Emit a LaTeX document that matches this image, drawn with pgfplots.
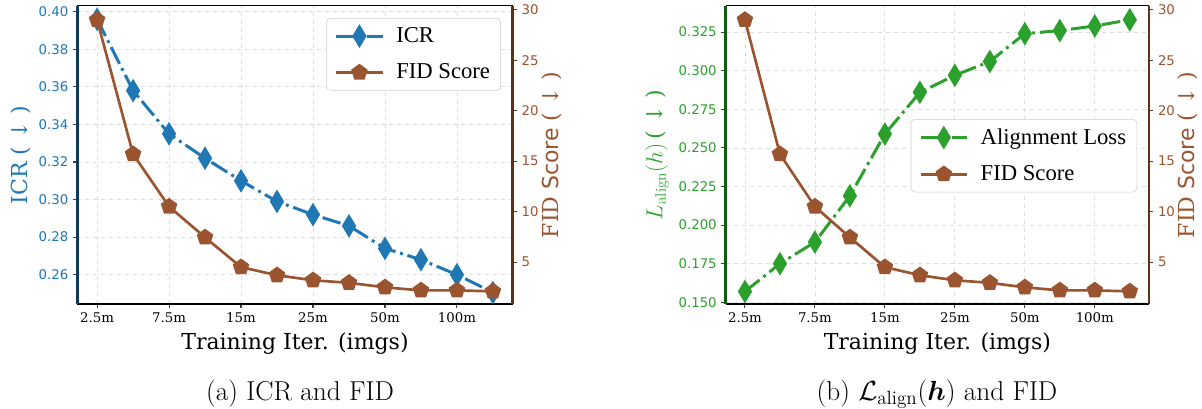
\documentclass[border=0pt]{standalone}
\usepackage{amsmath}
\usepackage{fontspec}
\usepackage{pgfplots}
\usepackage{pgfplotstable}
\pgfplotsset{compat=1.18}
\newfontfamily\dsans{DejaVu Sans}
\newfontfamily\dserif{DejaVu Serif}
\newfontfamily\tnr{Liberation Serif}
\definecolor{tabblue}{HTML}{1F77B4}
\definecolor{tabgreen}{HTML}{2CA02C}
\definecolor{fidbrown}{HTML}{9A5430}
\definecolor{spineblue}{HTML}{0E3A5C}
\definecolor{spinegreen}{HTML}{0B5E0B}
\definecolor{spinebrown}{HTML}{5A3418}

\pgfplotstableread{
x icr align fid
0 0.396 0.157 29.0
1 0.358 0.175 15.7
2 0.335 0.189 10.5
3 0.322 0.219 7.45
4 0.310 0.259 4.5
5 0.299 0.286 3.7
6 0.292 0.297 3.2
7 0.286 0.306 2.95
8 0.274 0.324 2.5
9 0.268 0.326 2.2
10 0.260 0.329 2.2
11 0.2505 0.333 2.1
}\data

\pgfplotsset{
  base/.style={
    scale only axis, height=223.7pt, xmin=-0.55, xmax=11.55,
    anchor=south west, tick align=outside, major tick length=3.2pt,
    major tick style={black!75, line width=0.8pt},
    xtick={0,2,4,6,8,10},
    xticklabels={2.5m,7.5m,15m,25m,50m,100m},
    xticklabel style={font=\dserif\fontsize{10}{12}\selectfont},
    legend cell align=left,
    legend image code/.code={\draw[mark repeat=2,mark phase=2,##1] plot coordinates {(0pt,0pt) (17.5pt,0pt) (35pt,0pt)};},
  },
  leftax/.style={
    base, axis x line*=box, axis y line*=left, xtick pos=left, ytick pos=left,
    x axis line style={black, line width=1.1pt},
    xmajorgrids, ymajorgrids,
    major grid style={dashed, black!13, line width=0.6pt},
    xlabel={Training Iter. (imgs)},
    xlabel style={font=\dserif\fontsize{16.5}{18}\selectfont, at={(axis description cs:0.5,-0.151)}, anchor=base},
  },
  rightax/.style={
    base, axis x line=none, axis y line*=right, ytick pos=right,
    y axis line style={spinebrown, line width=2pt},
    ymin=0.85, ymax=30.4, ytick={5,10,15,20,25,30},
    yticklabel style={color=fidbrown, font=\dsans\fontsize{10}{12}\selectfont, /pgf/number format/assume math mode=true},
    ylabel={\dserif FID {\dsans Score} ( ↓ )},
    legend style={draw=black!20, rounded corners=3pt, fill=white,
      font=\tnr\fontsize{17}{20}\selectfont, inner xsep=6pt, inner ysep=5pt, row sep=10.5pt, column sep=7pt},
  },
  icrstyle/.style={tabblue, line width=2.25pt, dash pattern=on 14pt off 3.6pt on 2.2pt off 3.6pt,
    mark=diamond*, mark size=6.75pt, mark options={solid, xscale=0.8}},
  alstyle/.style={tabgreen, line width=2.25pt, dash pattern=on 14pt off 3.6pt on 2.2pt off 3.6pt,
    mark=diamond*, mark size=6.75pt, mark options={solid, xscale=0.8}},
  fidstyle/.style={fidbrown, line width=2pt, mark=pentagon*, mark size=5.3pt, mark options={solid}},
}

\begin{document}
\begin{tikzpicture}
\useasboundingbox (0,0) rectangle (901.5pt,306pt);

% ---------- (a) ----------
\begin{axis}[leftax, at={(57.98pt,78pt)}, width=326.55pt,
  y axis line style={spineblue, line width=2pt},
  ymin=0.2444, ymax=0.4032, ytick={0.26,0.28,0.30,0.32,0.34,0.36,0.38,0.40},
  yticklabel style={color=tabblue, font=\dsans\fontsize{10}{12}\selectfont,
    /pgf/number format/fixed, /pgf/number format/fixed zerofill,
    /pgf/number format/precision=2, /pgf/number format/assume math mode=true},
  ylabel={\dserif ICR ( ↓ )},
  every axis y label/.style={at={(axis description cs:-0.1293,0.5)}, rotate=90, anchor=center,
    font=\fontsize{16.5}{18}\selectfont, color=tabblue},
]
\addplot[icrstyle] table[x=x,y=icr]{\data};
\end{axis}
\begin{axis}[rightax, at={(57.98pt,78pt)}, width=326.55pt,
  every axis y label/.style={at={(axis description cs:1.0903,0.5)}, rotate=90, anchor=center,
    font=\fontsize{16.5}{18}\selectfont, color=fidbrown},
  legend style={at={(0.9731,0.9588)}, anchor=north east},
]
\addlegendimage{icrstyle}
\addlegendentry{ICR}
\addplot[fidstyle] table[x=x,y=fid]{\data};
\addlegendentry{FID Score}
\end{axis}

% ---------- (b) ----------
\begin{axis}[leftax, at={(544.28pt,78pt)}, width=317.48pt,
  y axis line style={spinegreen, line width=2pt},
  ymin=0.1489, ymax=0.3421, ytick={0.150,0.175,0.200,0.225,0.250,0.275,0.300,0.325},
  yticklabel style={color=tabgreen, font=\dsans\fontsize{10}{12}\selectfont,
    /pgf/number format/fixed, /pgf/number format/fixed zerofill,
    /pgf/number format/precision=3, /pgf/number format/assume math mode=true},
  ylabel={$L_{\mathrm{align}}(h)$\,{\dserif ( ↓ )}},
  every axis y label/.style={at={(axis description cs:-0.1623,0.5)}, rotate=90, anchor=center,
    font=\fontsize{16.5}{18}\selectfont, color=tabgreen},
]
\addplot[alstyle] table[x=x,y=align]{\data};
\end{axis}
\begin{axis}[rightax, at={(544.28pt,78pt)}, width=317.48pt,
  every axis y label/.style={at={(axis description cs:1.0921,0.5)}, rotate=90, anchor=center,
    font=\fontsize{16.5}{18}\selectfont, color=fidbrown},
  legend style={at={(0.9717,0.6202)}, anchor=north east},
]
\addlegendimage{alstyle}
\addlegendentry{Alignment Loss}
\addplot[fidstyle] table[x=x,y=fid]{\data};
\addlegendentry{FID Score}
\end{axis}

\node[anchor=base, font=\fontsize{20.5}{23}\selectfont] at (225pt,5.6pt) {(a) ICR and FID};
\node[anchor=base, font=\fontsize{20.5}{23}\selectfont] at (702.75pt,5.6pt) {(b) $\mathcal{L}_{\mathrm{align}}(\boldsymbol{h})$ and FID};
\end{tikzpicture}
\end{document}
